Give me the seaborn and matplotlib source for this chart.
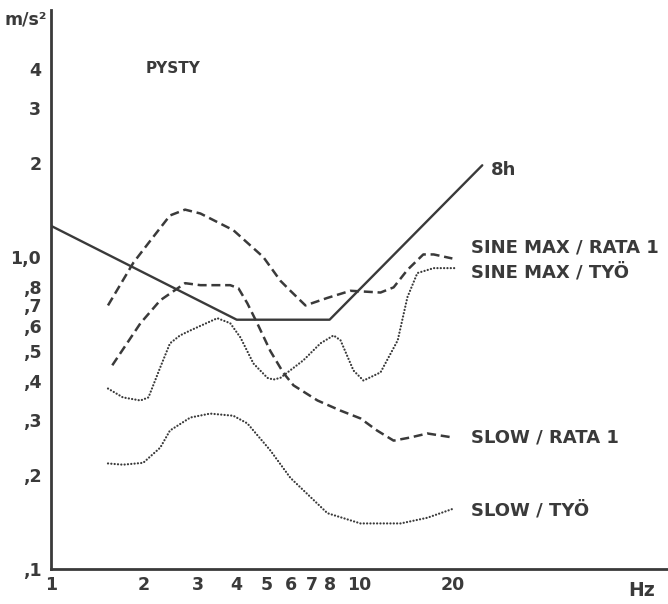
import matplotlib
matplotlib.use("Agg")
import matplotlib.pyplot as plt
import seaborn as sns
import pandas as pd

# ---- data ----
limit_x = [1.0, 4.0, 8.0, 25.0]
limit_y = [1.26, 0.63, 0.63, 1.97]

sine_rata_x = [1.53, 1.85, 2.10, 2.43, 2.72, 3.05, 3.90, 4.88, 5.54, 5.97, 6.68, 7.87, 9.35, 11.7, 12.9, 14.3, 16.1, 17.4, 20.0]
sine_rata_y = [0.70, 0.96, 1.13, 1.36, 1.42, 1.38, 1.22, 1.00, 0.84, 0.78, 0.70, 0.74, 0.78, 0.77, 0.80, 0.91, 1.02, 1.02, 0.99]

sine_tyo_x = [1.53, 1.71, 1.95, 2.07, 2.26, 2.43, 2.62, 2.83, 3.46, 3.81, 4.11, 4.53, 5.03, 5.26, 5.54, 6.58, 7.47, 8.24, 8.68, 9.56, 10.3, 11.7, 13.3, 14.3, 15.4, 17.4, 20.5]
sine_tyo_y = [0.379, 0.355, 0.347, 0.355, 0.443, 0.529, 0.561, 0.582, 0.637, 0.614, 0.553, 0.456, 0.410, 0.405, 0.410, 0.467, 0.529, 0.561, 0.541, 0.433, 0.402, 0.427, 0.541, 0.744, 0.889, 0.922, 0.922]

slow_rata_x = [1.58, 1.95, 2.26, 2.72, 3.05, 3.81, 4.05, 4.33, 4.66, 5.14, 5.67, 6.11, 7.31, 8.68, 10.07, 11.4, 12.9, 14.6, 16.6, 20.1]
slow_rata_y = [0.45, 0.614, 0.727, 0.825, 0.813, 0.813, 0.795, 0.711, 0.614, 0.50, 0.425, 0.388, 0.347, 0.322, 0.304, 0.278, 0.258, 0.264, 0.272, 0.264]

slow_tyo_x = [1.53, 1.71, 1.99, 2.26, 2.43, 2.83, 3.28, 3.90, 4.33, 5.14, 5.97, 7.87, 10.07, 13.6, 16.6, 20.1]
slow_tyo_y = [0.218, 0.216, 0.219, 0.245, 0.278, 0.306, 0.315, 0.310, 0.293, 0.240, 0.196, 0.151, 0.140, 0.140, 0.146, 0.156]

x_ticks = [1, 2, 3, 4, 5, 6, 7, 8, 9, 10, 20]
x_labels = ["1", "2", "3", "4", "5", "6", "7", "8", "", "10", "20"]
y_ticks = [0.1, 0.2, 0.3, 0.4, 0.5, 0.6, 0.7, 0.8, 0.9, 1.0, 2, 3, 4]
y_labels = [",1", ",2", ",3", ",4", ",5", ",6", ",7", ",8", "", "1,0", "2", "3", "4"]

labels = {
    "8h": (26.6, 1.905),
    "SINE MAX / RATA 1": (22.9, 1.07),
    "SINE MAX / TYÖ": (22.9, 0.895),
    "SLOW / RATA 1": (22.9, 0.264),
    "SLOW / TYÖ": (22.9, 0.154),
}

# ---- style ----
sns.set_style("white")
plt.rcParams["font.family"] = ["DejaVu Sans"]
plt.rcParams["font.weight"] = "bold"
INK = "#3a3a3a"

fig = plt.figure(figsize=(6.68, 6.04), dpi=100)
ax = fig.add_axes([51 / 668, 35 / 604, 617 / 668, 559 / 604])

def draw(xs, ys, **kw):
    df = pd.DataFrame({"f": xs, "a": ys})
    sns.lineplot(data=df, x="f", y="a", ax=ax, sort=False, estimator=None,
                 color=INK, legend=False, **kw)

draw(limit_x, limit_y, linewidth=1.7, linestyle="-")
dash = (0, (3.6, 1.9))
draw(sine_rata_x, sine_rata_y, linewidth=1.8, linestyle=dash)
draw(slow_rata_x, slow_rata_y, linewidth=1.8, linestyle=dash)
dot = (0, (0.05, 1.45))
draw(sine_tyo_x, sine_tyo_y, linewidth=1.6, linestyle=dot, dash_capstyle="round")
draw(slow_tyo_x, slow_tyo_y, linewidth=1.6, linestyle=dot, dash_capstyle="round")

ax.set_xscale("log")
ax.set_yscale("log")
ax.set_xlim(1, 100)
ax.set_ylim(0.1, 6.2)
ax.set_xlabel("")
ax.set_ylabel("")

ax.set_xticks(x_ticks)
ax.set_xticklabels(x_labels)
ax.set_yticks(y_ticks)
ax.set_yticklabels(y_labels)
ax.minorticks_off()
ax.tick_params(axis="x", direction="in", length=6, width=1.4, color=INK,
               labelsize=12.5, labelcolor=INK, pad=5)
ax.tick_params(axis="y", direction="out", length=6, width=1.4, color=INK,
               labelsize=12.5, labelcolor=INK, pad=1)
for lab in ax.get_xticklabels() + ax.get_yticklabels():
    lab.set_fontweight("bold")

for s in ["top", "right"]:
    ax.spines[s].set_visible(False)
for s in ["left", "bottom"]:
    ax.spines[s].set_linewidth(2.0)
    ax.spines[s].set_color(INK)

for txt, (tx, ty) in labels.items():
    ax.text(tx, ty, txt, fontsize=13, fontweight="bold", color=INK,
            ha="left", va="center")

ax.text(2.02, 4.04, "PYSTY", fontsize=11, fontweight="bold", color=INK,
        ha="left", va="center")
fig.text(628 / 668, 1 - 590 / 604, "Hz", fontsize=13.5, fontweight="bold",
         color=INK, ha="left", va="center")
fig.text(4 / 668, 1 - 19 / 604, "m/s²", fontsize=12.5, fontweight="bold",
         color=INK, ha="left", va="center")

fig.savefig("out.png", dpi=100)
